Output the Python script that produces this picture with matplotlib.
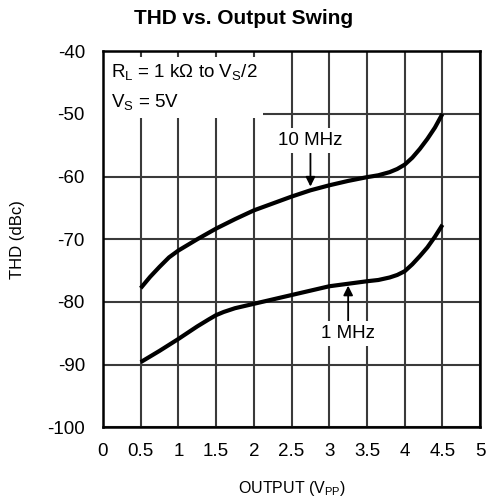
import numpy as np
import matplotlib
matplotlib.use("Agg")
import matplotlib.pyplot as plt
from matplotlib.patches import Rectangle

# values
swing_10mhz = [0.5, 0.625, 0.75, 0.875, 1.0, 1.25, 1.5, 1.75, 2.0, 2.25, 2.5,
               2.75, 3.0, 3.25, 3.5, 3.65, 3.8, 3.9, 4.0, 4.1, 4.2, 4.3,
               4.4, 4.5]
thd_10mhz = [-77.8, -76.0, -74.4, -72.9, -71.8, -70.0, -68.3, -66.8, -65.4,
             -64.3, -63.2, -62.2, -61.4, -60.7, -60.1, -59.8, -59.3, -58.8,
             -58.1, -57.0, -55.6, -54.0, -52.2, -50.0]

swing_1mhz = [0.5, 0.75, 1.0, 1.25, 1.4, 1.5, 1.6, 1.75, 2.0, 2.25, 2.5, 2.75,
              3.0, 3.25, 3.5, 3.65, 3.8, 3.9, 4.0, 4.1, 4.2, 4.3, 4.4, 4.5]
thd_1mhz = [-89.6, -87.8, -85.9, -83.9, -82.8, -82.1, -81.6, -81.0, -80.3,
            -79.6, -78.9, -78.2, -77.5, -77.1, -76.7, -76.5, -76.1, -75.7,
            -75.1, -74.0, -72.7, -71.3, -69.6, -67.7]

x_ticks = [0, 0.5, 1, 1.5, 2, 2.5, 3, 3.5, 4, 4.5, 5]
x_tick_labels = ["0", "0.5", "1", "1.5", "2", "2.5", "3", "3.5", "4", "4.5", "5"]
y_ticks = [-100, -90, -80, -70, -60, -50, -40]

plt.rcParams["font.family"] = ["Liberation Sans", "DejaVu Sans"]
plt.rcParams["mathtext.fontset"] = "custom"
plt.rcParams["mathtext.rm"] = "Liberation Sans"
plt.rcParams["mathtext.it"] = "Liberation Sans:italic"
plt.rcParams["axes.unicode_minus"] = False


def plot_thd(filename="out.png"):
    fig = plt.figure(figsize=(4.88, 5.01), dpi=100)
    ax = fig.add_axes([0.211, 0.147, 0.773, 0.751])

    ax.set_xlim(0, 5)
    ax.set_ylim(-100, -40)
    ax.set_xticks(x_ticks)
    ax.set_xticklabels(x_tick_labels)
    ax.set_yticks(y_ticks)
    ax.tick_params(axis="both", length=0, labelsize=13.5, colors="black")
    ax.tick_params(axis="x", pad=11)
    ax.tick_params(axis="y", pad=13)

    ax.grid(True, color="#3a3a3a", linewidth=1.5, zorder=1)
    ax.set_axisbelow(True)
    for spine in ax.spines.values():
        spine.set_linewidth(1.8)
        spine.set_color("black")

    ax.plot(swing_10mhz, thd_10mhz, color="black", lw=3, solid_capstyle="butt",
            solid_joinstyle="round", zorder=3)
    ax.plot(swing_1mhz, thd_1mhz, color="black", lw=3, solid_capstyle="butt",
            solid_joinstyle="round", zorder=3)

    # white patch behind the conditions text, hides the grid there
    ax.add_patch(Rectangle((0, 0.822), 0.424, 0.162, transform=ax.transAxes,
                           facecolor="white", edgecolor="none", zorder=2))
    ax.text(0.11, -44.1, r"R$_{\mathrm{L}}$ = 1 kΩ to V$_{\mathrm{S}}$/2",
            fontsize=13.5, ha="left", va="baseline", zorder=4)
    ax.text(0.11, -48.9, r"V$_{\mathrm{S}}$ = 5V",
            fontsize=13.5, ha="left", va="baseline", zorder=4)

    white = dict(facecolor="white", edgecolor="none", pad=3)
    arrow = dict(arrowstyle="-|>", color="black", lw=1.3, mutation_scale=14,
                 shrinkA=0, shrinkB=0)
    ax.annotate("10 MHz", xy=(2.75, -61.6), xytext=(2.75, -54.3),
                fontsize=13.5, ha="center", va="center", arrowprops=arrow,
                bbox=white, zorder=4)
    ax.annotate("1 MHz", xy=(3.25, -77.4), xytext=(3.25, -85.0),
                fontsize=13.5, ha="center", va="center", arrowprops=arrow,
                bbox=white, zorder=4)

    ax.set_xlabel(r"OUTPUT (V$_{\mathrm{PP}}$)", fontsize=11.5, labelpad=14)
    ax.set_ylabel("THD (dBc)", fontsize=12, labelpad=16)
    fig.suptitle("THD vs. Output Swing", fontsize=15, fontweight="bold",
                 x=0.5, y=0.982)

    fig.savefig(filename, dpi=100)


if __name__ == "__main__":
    plot_thd()
